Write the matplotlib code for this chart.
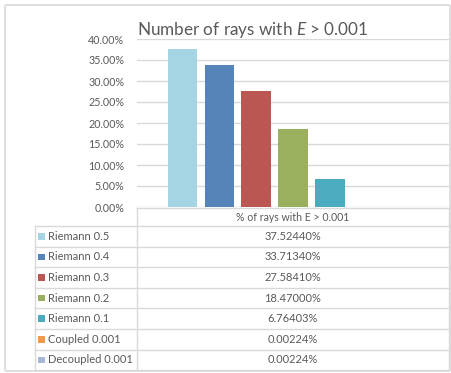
import matplotlib
matplotlib.use("Agg")
import matplotlib.pyplot as plt
from matplotlib.patches import FancyBboxPatch, Rectangle
from matplotlib.lines import Line2D

plt.rcParams['font.family'] = ['Lato', 'DejaVu Sans']
plt.rcParams['mathtext.fontset'] = 'custom'
plt.rcParams['mathtext.rm'] = 'Lato'
plt.rcParams['mathtext.it'] = 'Lato:italic'

# Series shown in the chart
series_names = ["Riemann 0.5", "Riemann 0.4", "Riemann 0.3", "Riemann 0.2",
                "Riemann 0.1", "Coupled 0.001", "Decoupled 0.001"]
pct_values = [37.52440, 33.71340, 27.58410, 18.47000, 6.76403, 0.00224, 0.00224]
category_label = "% of rays with E > 0.001"
yticks_pct = [0, 5, 10, 15, 20, 25, 30, 35, 40]
colors = ["#A5D5E3", "#5584B8", "#BA5752", "#9BB05E", "#4BACC0", "#F19A4D", "#A5B8D8"]

W, H = 452, 373
fig = plt.figure(figsize=(W / 100, H / 100), dpi=100)
TXT = "#595959"
GRID = "#D9D9D9"


def fx(x):
    return x / W


def fy(y):
    return 1 - y / H


# chart frame
fig.add_artist(FancyBboxPatch((fx(5), fy(371)), fx(445), 366 / H,
                              boxstyle="round,pad=0,rounding_size=0.004",
                              transform=fig.transFigure, fc="white",
                              ec=GRID, lw=1.2, zorder=-10))

# plot area
x0, x1, y0, y1 = 137, 449, 207, 39
ax = fig.add_axes([fx(x0), fy(y0), (x1 - x0) / W, (y0 - y1) / H])
ax.set_zorder(5)
n = len(series_names)
xs = list(range(n))
ax.bar(xs, [v / 100 for v in pct_values], width=0.8, color=colors, zorder=3)
ax.set_xlim(-1.24, n - 1 + 1.24)
ax.set_ylim(0, 0.40)
ax.set_yticks([t / 100 for t in yticks_pct])
ax.set_yticklabels([f"{t:.2f}%" for t in yticks_pct], color=TXT, fontsize=7.7)
ax.tick_params(axis='y', length=0, pad=9)
ax.set_xticks([])
ax.grid(axis='y', color=GRID, lw=1.0, zorder=0)
for s in ax.spines.values():
    s.set_visible(False)
ax.patch.set_alpha(0)

fig.text(fx(253), fy(30), r"Number of rays with $E$ > 0.001", ha="center",
         va="center", fontsize=12.3, color=TXT)

# data table under the plot area
tl, tm, tr = 35, 137, 449
head_top, row_top, row_h = 208, 226, 20.6
bottom = row_top + n * row_h


def hline(y, xa, xb):
    fig.add_artist(Line2D([fx(xa), fx(xb)], [fy(y), fy(y)], color=GRID, lw=1.0))


def vline(x, ya, yb):
    fig.add_artist(Line2D([fx(x), fx(x)], [fy(ya), fy(yb)], color=GRID, lw=1.0))


hline(head_top, tm, tr)
vline(tm, head_top, bottom)
vline(tr, head_top, bottom)
vline(tl, row_top, bottom)
for i in range(n + 1):
    hline(row_top + i * row_h, tl, tr)

fig.text(fx((tm + tr) / 2), fy((head_top + row_top) / 2), category_label,
         ha="center", va="center", fontsize=7.6, color=TXT)

for i, (name, val, c) in enumerate(zip(series_names, pct_values, colors)):
    yc = row_top + (i + 0.5) * row_h
    fig.add_artist(Rectangle((fx(38), fy(yc + 3.3)), 6.6 / W, 6.6 / H,
                             transform=fig.transFigure, fc=c, ec="none"))
    fig.text(fx(48.5), fy(yc), name, ha="left", va="center", fontsize=8.0, color=TXT)
    fig.text(fx((tm + tr) / 2), fy(yc), f"{val:.5f}%", ha="center", va="center",
             fontsize=8.0, color=TXT)

fig.savefig("out.png", dpi=100)
